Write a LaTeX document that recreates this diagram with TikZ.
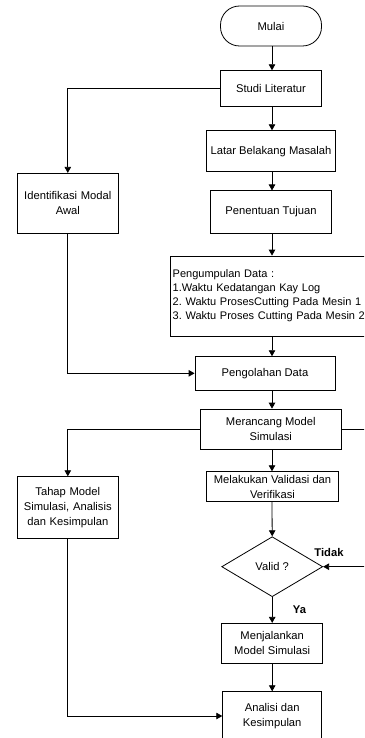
\documentclass[tikz,border=0pt]{standalone}
\usepackage{fontspec}
\setmainfont{Liberation Sans}
\usetikzlibrary{arrows.meta,shapes.geometric,calc}
\begin{document}
\frenchspacing
\begin{tikzpicture}[x=1pt,y=-1pt,
  line width=0.8pt,
  box/.style={draw, rectangle, align=center, inner sep=2pt,
    font=\fontsize{11.2}{15}\selectfont},
  term/.style={box, rounded corners=19pt},
  dec/.style={draw, diamond, inner sep=0pt, font=\fontsize{11.2}{15}\selectfont},
  lbl/.style={font=\fontsize{11.2}{14}\selectfont\bfseries, inner sep=0pt},
  arr/.style={-{Triangle[length=6pt,width=6.5pt]}}
]
\useasboundingbox (0,0) rectangle (364,738);
\clip (0,0) rectangle (364,738);
\fill[white] (0,0) rectangle (364,738);
\coordinate (spine) at (272,0);
\coordinate (rcol) at (382,0);

\node[term, minimum width=101pt, minimum height=40pt] (mulai) at (271,26) {Mulai};
\node[box, minimum width=101pt, minimum height=36pt] (studi) at (271,88.7) {Studi Literatur};
\node[box, minimum width=128.3pt, minimum height=41pt] (latar) at (271,151.2) {Latar Belakang Masalah};
\node[box, minimum width=121.7pt, minimum height=42.3pt] (tujuan) at (271,212) {Penentuan Tujuan};
\node[box, align=left, text width=205pt, inner xsep=2pt, minimum height=80pt,
      font=\fontsize{11}{14}\selectfont] (kumpul) at (275.2,296)
  {Pengumpulan Data :\\1.Waktu Kedatangan Kay Log\\2. Waktu ProsesCutting Pada Mesin 1\\3. Waktu Proses Cutting Pada Mesin 2\\[2pt]};
\node[box, minimum width=140pt, minimum height=33.3pt] (olah) at (265,373.3) {Pengolahan Data};
\node[box, minimum width=141.7pt, minimum height=40.3pt] (rancang) at (270.8,429.2) {Merancang Model\\Simulasi};
\node[box, minimum width=131.6pt, minimum height=30pt] (validasi) at (272.5,486.7) {Melakukan Validasi dan\\Verifikasi};
\node[dec, minimum width=101pt, minimum height=60pt] (valid) at (272.2,566.7) {Valid ?};
\node[box, minimum width=101pt, minimum height=40pt] (jalan) at (272.2,643.3) {Menjalankan\\Model Simulasi};
\node[box, minimum width=99pt, minimum height=48.6pt] (analisi) at (272.2,716) {Analisi dan\\Kesimpulan};
\node[box, minimum width=101pt, minimum height=60pt, text width=95pt] (identi) at (67.8,203.3) {Identifikasi Modal\\Awal};
\node[box, minimum width=101pt, minimum height=61.6pt, text width=95pt] (tahap) at (67.8,507.5) {Tahap Model\\Simulasi, Analisis\\dan Kesimpulan};

\node[lbl] (tidak) at (329,552) {Tidak};
\node[lbl] (ya) at (299.5,610) {Ya};

\draw[arr] (mulai.south -| spine) -- (studi.north -| spine);
\draw[arr] (studi.south -| spine) -- (latar.north -| spine);
\draw[arr] (latar.south -| spine) -- (tujuan.north -| spine);
\draw[arr] (tujuan.south -| spine) -- (kumpul.north -| spine);
\draw[arr] (kumpul.south -| spine) -- (olah.north -| spine);
\draw[arr] (olah.south -| spine) -- (rancang.north -| spine);
\draw[arr] (rancang.south -| spine) -- (validasi.north -| spine);
\draw[arr] (validasi.south -| spine) -- (valid.north);
\draw[arr] (valid.south) -- (jalan.north -| valid.south);
\draw[arr] (jalan.south -| valid.south) -- (analisi.north -| valid.south);

\draw[arr] (studi.west) -| (identi.north);
\draw[arr] (identi.south) |- (olah.west);
\draw[arr] (rancang.west) -| (tahap.north);
\draw[arr] (tahap.south) |- (analisi.west);
\draw[arr] (rancang.east) -- (rancang.east -| rcol) |- (valid.east);
\end{tikzpicture}
\end{document}
